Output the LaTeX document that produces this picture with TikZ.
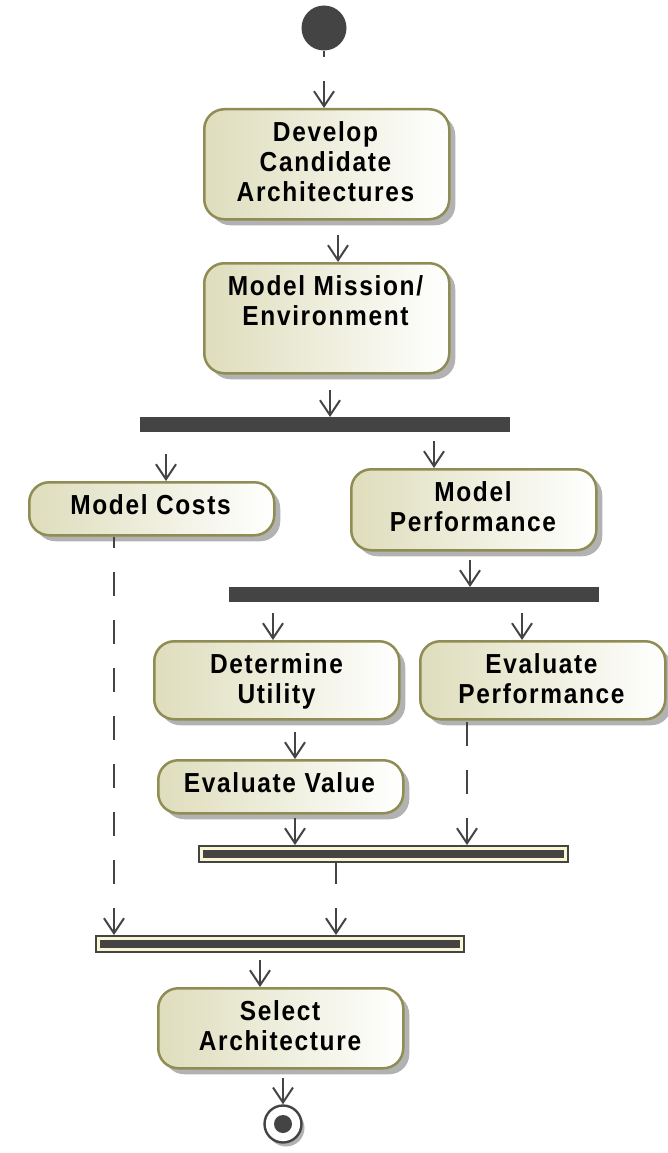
\documentclass[tikz,border=0pt]{standalone}
\usepackage{fontspec}
\setmainfont{Liberation Sans}
\newfontfamily\actfont[LetterSpace=6,FakeStretch=0.89]{Liberation Sans Bold}
\usetikzlibrary{arrows.meta,shadows}

\definecolor{ink}{RGB}{68,68,68}
\definecolor{actborder}{RGB}{143,140,84}
\definecolor{actfill}{RGB}{222,221,188}
\definecolor{barhi}{RGB}{250,246,210}

\begin{document}
\begin{tikzpicture}[x=1pt,y=-1pt,
  action/.style={draw=actborder, line width=2.5pt, rounded corners=20pt,
    left color=actfill, right color=white, inner sep=0pt, minimum width=245pt,
    anchor=north west,
    drop shadow={shadow xshift=6pt, shadow yshift=-6pt, fill=black!30, opacity=1}},
  acttext/.style={anchor=north, inner sep=0pt, align=center,
    font=\actfont\fontsize{27.5pt}{30pt}\selectfont},
  forkbar/.style={fill=ink, draw=none, inner sep=0pt, anchor=north west,
    minimum height=15pt},
  joinbar/.style={draw=ink, line width=1.6pt, fill=barhi, inner sep=0pt,
    anchor=north west, minimum height=16pt,
    path picture={\fill[ink]
      ([shift={(3.8pt,-3.8pt)}]path picture bounding box.north west) rectangle
      ([shift={(-3.8pt,3.8pt)}]path picture bounding box.south east);}},
  flow/.style={draw=ink, line width=2pt, dash pattern=on 24pt off 24pt,
    {Straight Barb[length=15pt,width=20pt]}-}
]
\useasboundingbox (0,0) rectangle (667,1153);

% initial node
\node[circle, fill=ink, inner sep=0pt, minimum size=45pt] (init) at (324,28) {};

% actions
\node[action, minimum height=110pt] (dev) at (203,108) {};
\node[acttext] (devtext) at (325.5,121) {Develop\\Candidate\\Architectures};

\node[action, minimum height=110pt] (mm) at (203,262) {};
\node[acttext] (mmtext) at (325.5,275) {Model Mission/\\Environment};

\node[forkbar, minimum width=370pt] (fork1) at (140,417) {};

\node[action, minimum height=53pt] (mc) at (28,481) {};
\node[acttext] (mctext) at (150.5,494) {Model Costs};

\node[action, minimum height=81pt] (mp) at (350,468) {};
\node[acttext] (mptext) at (473,481) {Model\\Performance};

\node[forkbar, minimum width=370pt] (fork2) at (229,587) {};

\node[action, minimum height=78pt] (du) at (153,640) {};
\node[acttext] (dutext) at (276.5,653) {Determine\\Utility};

\node[action, minimum height=78pt] (ep) at (419,640) {};
\node[acttext] (eptext) at (541.5,653) {Evaluate\\Performance};

\node[action, minimum height=53pt] (ev) at (157,759) {};
\node[acttext] (evtext) at (279.5,772) {Evaluate Value};

\node[joinbar, minimum width=369pt] (join1) at (198,845) {};
\node[joinbar, minimum width=368pt] (join2) at (95,935) {};

\node[action, minimum height=80pt] (sel) at (157,987) {};
\node[acttext] (seltext) at (280,1000) {Select\\Architecture};

% final node
\node[circle, draw=ink, line width=2.4pt, fill=white, inner sep=0pt, minimum size=37pt,
  drop shadow={shadow xshift=3pt, shadow yshift=-4pt, fill=black!30, opacity=1}]
  (final) at (283,1124) {};
\node[circle, fill=ink, inner sep=0pt, minimum size=18pt] (finaldot) at (final.center) {};

% connector columns
\coordinate (cDM) at (338,0);
\coordinate (cMF) at (330,0);
\coordinate (cMC) at (166,0);
\coordinate (cMP) at (434,0);
\coordinate (cPF) at (470,0);
\coordinate (cDU) at (273,0);
\coordinate (cEP) at (522,0);
\coordinate (cUV) at (295,0);
\coordinate (cEJ) at (467,0);
\coordinate (cCJ) at (114,0);
\coordinate (cJJ) at (336,0);
\coordinate (cJS) at (260,0);

% control flows, each drawn from its target back to its source
\draw[flow] (dev.north -| init) -- (init.south);
\draw[flow] (mm.north -| cDM) -- (dev.south -| cDM);
\draw[flow] (fork1.north -| cMF) -- (mm.south -| cMF);
\draw[flow] (mc.north -| cMC) -- (fork1.south -| cMC);
\draw[flow] (mp.north -| cMP) -- (fork1.south -| cMP);
\draw[flow] (fork2.north -| cPF) -- (mp.south -| cPF);
\draw[flow] (du.north -| cDU) -- (fork2.south -| cDU);
\draw[flow] (ep.north -| cEP) -- (fork2.south -| cEP);
\draw[flow] (ev.north -| cUV) -- (du.south -| cUV);
\draw[flow] (join1.north -| cUV) -- (ev.south -| cUV);
\draw[flow] (join1.north -| cEJ) -- (ep.south -| cEJ);
\draw[flow] (join2.north -| cCJ) -- (mc.south -| cCJ);
\draw[flow] (join2.north -| cJJ) -- (join1.south -| cJJ);
\draw[flow] (sel.north -| cJS) -- (join2.south -| cJS);
\draw[flow] (final.north) -- (sel.south -| final);
\end{tikzpicture}
\end{document}
